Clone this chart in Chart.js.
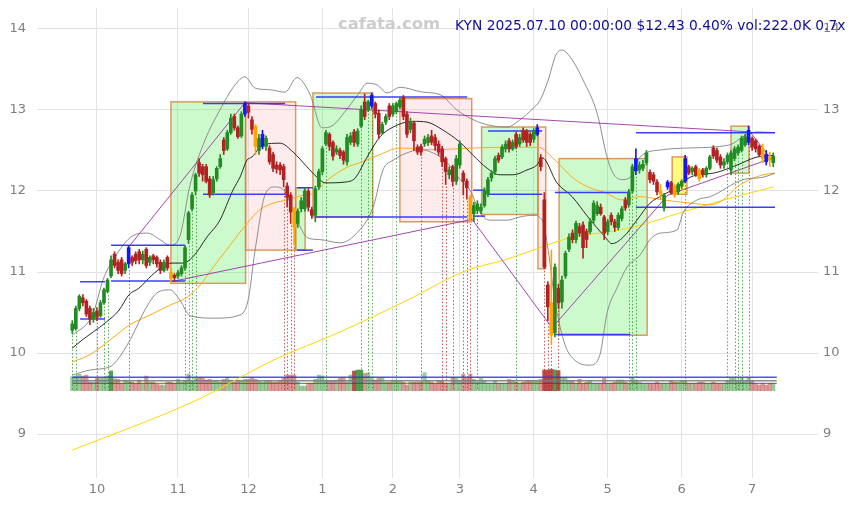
<!DOCTYPE html>
<html>
<head>
<meta charset="utf-8">
<title>KYN daily</title>
<script src="https://cdn.jsdelivr.net/npm/chart.js@4.4.1/dist/chart.umd.min.js"></script>
<style>
  html, body { margin: 0; padding: 0; background: #fff; }
  canvas { display: block; }
</style>
</head>
<body>
<canvas id="chart" width="854" height="505"></canvas>
<script>
// KYN daily candles, 2024-09-20 .. 2025-07-10 (x = trading-day index, 0 = 2024-09-20)
const monthIdx    = [7, 30, 50, 71, 91, 110, 131, 152, 173, 193];
const monthLabels = ['10', '11', '12', '1', '2', '3', '4', '5', '6', '7'];
const priceTicks  = [9, 10, 11, 12, 13, 14];

const opens = [
  10.28,10.30,10.55,10.68,10.64,10.55,10.42,10.52,10.46,10.62,
  10.76,10.95,11.22,11.12,11.15,11.02,11.10,11.18,11.22,11.25,
  11.15,11.28,11.12,11.20,11.18,11.12,11.02,11.18,11.00,10.96,
  10.95,10.98,11.05,11.40,11.78,12.00,12.35,12.30,12.30,12.15,
  11.98,12.15,12.30,12.63,12.52,12.72,12.92,12.78,12.68,12.95,
  13.05,12.88,12.80,12.50,12.55,12.55,12.53,12.45,12.32,12.32,
  12.30,12.06,11.95,11.78,11.60,11.78,11.78,12.00,11.77,11.70,
  12.05,12.24,12.58,12.70,12.60,12.48,12.50,12.48,12.36,12.60,
  12.73,12.58,12.80,13.10,13.00,13.05,13.08,12.96,12.72,12.85,
  13.05,12.95,12.98,13.04,13.16,12.95,12.76,12.84,12.54,12.55,
  12.58,12.60,12.68,12.66,12.58,12.52,12.40,12.20,12.30,12.12,
  12.32,12.22,12.12,11.92,11.72,11.76,11.76,11.82,11.96,12.16,
  12.24,12.44,12.42,12.52,12.62,12.52,12.70,12.58,12.75,12.74,
  12.70,12.64,12.70,12.41,11.89,10.84,10.62,10.25,10.80,10.63,
  10.95,11.28,11.48,11.40,11.56,11.58,11.50,11.50,11.64,11.72,
  11.80,11.68,11.50,11.70,11.62,11.55,11.66,11.89,11.83,12.00,
  12.25,12.26,12.28,12.35,12.23,12.20,12.11,12.00,11.79,12.05,
  12.10,12.06,11.99,12.06,12.12,12.30,12.24,12.30,12.26,12.26,
  12.20,12.28,12.53,12.50,12.42,12.32,12.36,12.26,12.40,12.47,
  12.50,12.57,12.60,12.65,12.62,12.55,12.52,12.45,12.42,12.35
];
const highs = [
  10.40,10.58,10.72,10.72,10.66,10.58,10.55,10.56,10.65,10.80,
  10.92,11.20,11.25,11.15,11.18,11.12,11.32,11.20,11.25,11.28,
  11.26,11.30,11.20,11.22,11.20,11.15,11.15,11.20,11.04,10.98,
  11.02,11.08,11.33,11.75,11.98,12.22,12.40,12.33,12.33,12.18,
  12.18,12.30,12.45,12.66,12.75,12.95,12.95,12.80,12.98,13.10,
  13.07,12.92,12.82,12.70,12.75,12.68,12.56,12.48,12.36,12.35,
  12.33,12.10,11.98,11.80,11.78,11.92,12.03,12.03,11.80,12.06,
  12.27,12.55,12.75,12.72,12.62,12.56,12.53,12.50,12.70,12.72,
  12.76,12.77,13.05,13.20,13.12,13.21,13.10,13.00,12.85,12.95,
  13.08,13.08,13.10,13.15,13.18,12.98,12.90,12.86,12.57,12.58,
  12.68,12.70,12.75,12.70,12.62,12.55,12.42,12.30,12.32,12.44,
  12.62,12.25,12.15,11.95,11.86,11.88,11.84,12.04,12.17,12.25,
  12.43,12.47,12.57,12.62,12.65,12.63,12.73,12.70,12.78,12.76,
  12.72,12.77,12.82,12.45,11.98,10.88,11.27,11.10,10.85,10.95,
  11.26,11.47,11.52,11.63,11.60,11.62,11.53,11.66,11.88,11.87,
  11.84,11.70,11.65,11.73,11.65,11.73,11.81,11.92,12.02,12.33,
  12.52,12.36,12.38,12.50,12.26,12.23,12.14,12.08,11.97,12.13,
  12.12,12.08,12.10,12.14,12.44,12.32,12.30,12.32,12.28,12.28,
  12.30,12.44,12.56,12.53,12.45,12.40,12.47,12.50,12.55,12.57,
  12.68,12.70,12.80,12.67,12.64,12.57,12.58,12.50,12.48,12.47
];
const lows = [
  10.24,10.28,10.52,10.58,10.45,10.35,10.38,10.40,10.44,10.60,
  10.74,10.93,11.05,10.98,10.95,10.98,11.05,11.08,11.10,11.10,
  11.10,11.05,11.08,11.10,11.06,10.98,11.00,11.02,10.86,10.88,
  10.92,10.95,11.02,11.35,11.75,11.95,12.18,12.12,12.10,11.92,
  11.95,12.12,12.28,12.45,12.50,12.70,12.75,12.65,12.66,12.92,
  12.90,12.70,12.45,12.45,12.52,12.50,12.33,12.24,12.22,12.20,
  12.05,11.80,11.60,11.33,11.55,11.74,11.75,11.75,11.66,11.62,
  12.02,12.20,12.56,12.50,12.38,12.45,12.40,12.33,12.32,12.57,
  12.55,12.55,12.78,12.88,12.98,13.02,12.90,12.65,12.70,12.82,
  12.88,12.92,12.95,13.02,12.88,12.66,12.72,12.50,12.45,12.44,
  12.55,12.56,12.57,12.50,12.44,12.30,12.08,12.15,12.06,12.08,
  12.28,11.95,11.90,11.62,11.62,11.72,11.72,11.80,11.93,12.12,
  12.20,12.35,12.40,12.48,12.48,12.50,12.52,12.55,12.60,12.55,
  12.56,12.60,12.68,12.25,11.04,10.40,10.10,10.20,10.55,10.55,
  10.92,11.25,11.36,11.36,11.44,11.17,11.30,11.47,11.60,11.70,
  11.70,11.40,11.46,11.58,11.50,11.52,11.63,11.76,11.80,11.97,
  12.20,12.22,12.25,12.32,12.10,12.08,11.95,11.90,11.75,12.02,
  11.96,11.92,11.96,12.03,12.10,12.20,12.20,12.18,12.12,12.17,
  12.17,12.26,12.40,12.35,12.28,12.28,12.33,12.20,12.37,12.44,
  12.48,12.55,12.57,12.50,12.48,12.42,12.35,12.32,12.30,12.30
];
const closes = [
  10.36,10.55,10.70,10.62,10.48,10.42,10.50,10.44,10.62,10.78,
  10.90,11.15,11.08,11.02,10.98,11.10,11.30,11.12,11.14,11.15,
  11.22,11.08,11.18,11.15,11.10,11.02,11.12,11.05,10.92,10.93,
  10.99,11.05,11.30,11.73,11.95,12.20,12.22,12.20,12.12,11.95,
  12.14,12.28,12.40,12.50,12.72,12.90,12.78,12.67,12.95,13.08,
  12.97,12.76,12.55,12.65,12.70,12.65,12.36,12.28,12.27,12.26,
  12.14,11.92,11.74,11.55,11.75,11.88,12.00,11.80,11.70,12.03,
  12.24,12.52,12.72,12.55,12.43,12.52,12.44,12.38,12.66,12.68,
  12.60,12.74,13.00,12.92,13.10,13.18,12.95,12.70,12.82,12.92,
  12.92,13.05,13.08,13.12,12.92,12.70,12.86,12.62,12.48,12.48,
  12.64,12.66,12.60,12.56,12.48,12.36,12.24,12.26,12.12,12.40,
  12.58,12.12,12.04,11.66,11.82,11.84,11.80,12.01,12.14,12.22,
  12.40,12.38,12.54,12.58,12.52,12.60,12.55,12.66,12.63,12.60,
  12.60,12.74,12.78,12.30,11.06,10.57,10.22,11.06,10.62,10.90,
  11.23,11.43,11.40,11.60,11.48,11.30,11.40,11.62,11.85,11.82,
  11.72,11.48,11.62,11.62,11.55,11.70,11.78,11.79,11.99,12.30,
  12.40,12.32,12.33,12.47,12.14,12.12,11.99,11.96,11.95,12.11,
  11.98,11.95,12.08,12.12,12.40,12.22,12.28,12.20,12.15,12.20,
  12.28,12.42,12.43,12.38,12.32,12.36,12.44,12.47,12.52,12.54,
  12.65,12.67,12.75,12.54,12.52,12.45,12.40,12.36,12.38,12.43
];
// daily volume, thousands of shares
const volumes = [
  420,440,500,440,470,260,260,370,370,370,
  440,590,360,340,220,320,290,260,220,320,
  220,440,260,260,200,170,170,260,260,220,
  340,260,300,500,300,370,400,400,320,340,
  300,300,260,340,400,300,260,300,300,340,
  340,400,340,300,260,300,300,260,260,300,
  370,470,470,470,260,140,140,220,220,340,
  470,440,300,300,300,320,370,400,260,470,
  590,620,620,520,540,370,320,370,400,260,
  260,320,300,300,260,170,260,260,260,260,
  540,300,260,220,300,300,220,220,400,370,
  300,500,370,500,340,260,370,300,220,220,
  300,220,220,220,340,300,260,220,260,300,
  300,300,300,340,620,620,640,620,600,400,
  400,300,300,220,340,220,260,300,220,220,
  220,370,220,220,260,320,320,260,220,370,
  320,260,220,220,220,220,260,220,220,220,
  300,260,260,300,300,220,220,220,260,260,
  220,220,260,220,220,220,300,370,370,300,
  370,300,370,300,220,170,220,170,220,222
];
const volumeLevels = [400, 300, 222];

// flagged sessions
const blueCandles   = [16, 49, 54, 85, 132, 160, 169, 174, 192, 197];
const orangeCandles = [28, 52, 63, 113, 136, 167, 171, 178, 196, 198];
const buySignals  = [0, 1, 7, 9, 10, 16, 32, 33, 34, 35, 72, 82, 84, 85, 92, 126, 158, 159, 160, 174, 186, 188, 189, 190, 192];
const sellSignals = [60, 61, 62, 63, 99, 105, 106, 108, 111, 112, 113, 115, 134, 135, 136, 138];

// moving averages and bands: [day index, price]
const ma20 = [
  [0,10.06],[2.8,10.16],[9.3,10.37],[13.3,10.53],[16.1,10.72],[18.9,10.80],[22.6,10.96],[25.5,11.06],
  [28.3,11.11],[31.4,11.11],[34.3,11.19],[38.2,11.43],[41.9,11.64],[45.6,12.01],[47.6,12.17],[49.6,12.38],
  [51,12.42],[54.2,12.57],[59,12.59],[62.7,12.48],[66.6,12.30],[69.5,12.17],[71.8,12.10],[77.4,12.11],
  [80.3,12.16],[83.7,12.42],[87.4,12.67],[91.1,12.79],[96.7,12.86],[100.7,12.85],[105.3,12.75],[110.1,12.60],
  [113.8,12.44],[117.8,12.28],[121.4,12.20],[125.1,12.20],[129.1,12.26],[131.9,12.32],[133.4,12.41],[137.6,12.10],
  [141.9,11.93],[146.4,11.68],[151.3,11.43],[153.2,11.35],[156.4,11.43],[160.3,11.64],[164,11.85],[167.7,11.95],
  [171.7,12.05],[175.4,12.17],[183,12.23],[188.7,12.32],[194.4,12.42],[199,12.44]
];
const ma50 = [
  [0,9.89],[5,9.98],[10.7,10.16],[16.4,10.35],[22.1,10.47],[27.7,10.59],[32.6,10.69],[36.3,10.84],
  [40,11.06],[44.8,11.33],[49.6,11.60],[53.3,11.77],[57,11.85],[61,11.89],[64.7,11.94],[68.9,11.98],
  [71.8,12.11],[77.4,12.28],[82.3,12.36],[86.8,12.44],[93,12.53],[102.4,12.51],[113.8,12.53],[121.4,12.54],
  [132.2,12.54],[137.1,12.38],[141.9,12.17],[146.4,12.05],[151.3,11.98],[156,11.89],[161.2,11.93],[167.7,11.89],
  [175.4,11.85],[181.1,11.83],[184.8,11.89],[188.7,12.05],[192.4,12.14],[196.1,12.20],[199.5,12.22]
];
const ma200 = [
  [0,8.80],[35.4,9.42],[57,9.91],[76,10.26],[95,10.65],[112,11.02],[122.8,11.15],[130.8,11.27],
  [141.9,11.43],[151.3,11.49],[159.8,11.56],[172.5,11.73],[186.7,11.91],[199,12.05]
];
const bandUpper = [
  [0,10.22],[5,10.41],[6.4,10.55],[8.7,10.90],[11.6,11.15],[17.3,11.45],[21.3,11.48],[24.9,11.40],
  [27.7,11.33],[30.6,11.45],[33.4,12.07],[37.7,12.63],[41.9,13.0],[46.2,13.31],[49,13.41],[51.9,13.27],
  [56.1,13.25],[60.4,13.22],[63.8,13.40],[67.5,13.19],[70.9,12.78],[74,12.81],[77.4,12.98],[81.1,13.19],
  [83.7,13.33],[86.5,13.31],[89.4,13.21],[93,13.28],[99.6,13.22],[104.4,13.19],[109.2,13.0],[113.8,12.88],
  [118.6,12.81],[123.4,12.79],[127.1,12.88],[130.8,13.02],[132.8,13.12],[135.1,13.37],[137.3,13.68],[139,13.74],
  [141.9,13.62],[145,13.37],[149,12.96],[151.8,12.42],[153.5,12.22],[156,12.14],[158.4,12.17],[161.2,12.42],
  [167.7,12.51],[174.5,12.53],[186.7,12.57],[190.4,12.67],[194.4,12.73],[199.5,12.72]
];
const bandLower = [
  [0.2,9.73],[5,9.79],[10.7,9.83],[12.7,9.91],[16.4,10.16],[20.6,10.53],[24,10.74],[27.7,10.78],
  [30.6,10.65],[33.4,10.46],[40.5,10.43],[47.6,10.47],[49.9,10.65],[51.9,11.27],[54.7,11.95],[57.5,12.05],
  [60.4,11.99],[63.2,11.70],[66.9,11.42],[70.3,11.40],[76,11.36],[80.3,11.46],[85.4,11.80],[88.2,12.26],
  [91.1,12.38],[95,12.47],[98.7,12.51],[102.4,12.47],[106.4,12.35],[110.1,12.14],[112.9,12.01],[115.8,11.73],
  [118.6,11.64],[123.4,11.64],[127.1,11.68],[130.8,11.70],[133.4,11.64],[135.1,11.27],[137,10.65],[139.9,10.10],
  [142.7,9.91],[147,9.85],[149.8,9.98],[151.8,10.49],[154.7,10.81],[157.5,11.06],[161.2,11.21],[164,11.40],
  [166.9,11.48],[171.7,11.52],[173.4,11.73],[177.4,11.89],[181.1,11.93],[190.4,12.14],[196.1,12.17],[199.5,12.22]
];

// trend zones: [from day, to day, top, bottom, kind]
const zones = [
  [28.0, 49.2, 13.10, 10.86, 'up'],
  [49.2, 63.4, 13.10, 11.27, 'down'],
  [63.4, 66.1, 12.04, 11.27, 'up'],
  [68.3, 85.3, 13.21, 11.68, 'up'],
  [93.0, 113.4, 13.14, 11.62, 'down'],
  [116.2, 132.2, 12.79, 11.71, 'up'],
  [132.2, 134.4, 12.79, 11.04, 'down'],
  [138.2, 163.2, 12.40, 10.22, 'up'],
  [170.3, 174.5, 12.42, 11.96, 'flat'],
  [187.0, 192.1, 12.80, 12.22, 'up']
];
// range levels: [from day, to day, price]
const levels = [
  [2.2, 9.3, 10.88], [2.2, 9.3, 10.42],
  [11, 32, 11.33], [11, 32, 10.89],
  [37.1, 60.4, 13.08], [37.1, 60.4, 11.96],
  [63.8, 68.3, 12.04], [63.8, 68.3, 11.27],
  [69.2, 112.1, 13.16], [69.2, 112.1, 11.68],
  [113.8, 117.2, 12.01], [113.8, 117.2, 11.69],
  [118, 133.4, 12.74], [118, 133.4, 11.96],
  [137, 158.4, 11.98], [137, 158.4, 10.23],
  [160, 199.5, 12.72], [160, 199.5, 11.80]
];
// trendlines: [day a, price a, day b, price b]
const trendlines = [
  [16.4, 11.33, 49, 13.09],
  [49, 13.09, 192.4, 12.73],
  [28, 10.88, 113.5, 11.65],
  [113.5, 11.65, 136.2, 10.31],
  [136.2, 10.31, 169.1, 11.95],
  [169.1, 11.95, 199, 12.41],
  [192.4, 12.73, 198, 12.42]
];

const headline = 'KYN 2025.07.10 00:00:00 $12.43 0.40% vol:222.0K 0.7x';
const brand = 'cafata.com';

// ---------- styling ----------
const UP = 'rgb(34,139,34)', DOWN = 'rgb(178,34,34)';
const FONT = "'DejaVu Sans', sans-serif";
const zoneFill = {
  up: 'rgba(60,235,60,0.26)',
  down: 'rgba(250,170,170,0.22)',
  flat: 'rgba(255,250,40,0.6)'
};

const days = closes.map((_, i) => i);
function candleColor(i) {
  if (blueCandles.includes(i)) return 'rgb(20,20,255)';
  if (orangeCandles.includes(i)) return 'rgb(255,165,0)';
  return closes[i] >= opens[i] ? UP : DOWN;
}
const candleColors = days.map(candleColor);
const volColors = days.map(i => {
  const up = closes[i] >= opens[i];
  const a = volumes[i] >= 550 ? 0.8 : 0.45;
  return up ? `rgba(34,139,34,${a})` : `rgba(178,34,34,${a})`;
});

function curve(points, color, width, order) {
  return {
    type: 'line', yAxisID: 'y',
    data: points.map(([x, y]) => ({ x, y })),
    borderColor: color, borderWidth: width, pointRadius: 0,
    cubicInterpolationMode: 'monotone', fill: false, order
  };
}
function straight(points, color, width, order, axis) {
  return {
    type: 'line', yAxisID: axis || 'y',
    data: points.map(([x, y]) => ({ x, y })),
    borderColor: color, borderWidth: width, pointRadius: 0,
    tension: 0, fill: false, order
  };
}

const datasets = [
  {
    type: 'bar', yAxisID: 'yv', order: 100, grouped: false,
    data: volumes.map((v, i) => ({ x: i, y: v })),
    backgroundColor: volColors, barThickness: 3.4, borderWidth: 0
  },
  straight([[0, volumeLevels[0]], [200, volumeLevels[0]]], 'rgba(50,50,240,0.85)', 1.5, 95, 'yv'),
  straight([[0, volumeLevels[1]], [200, volumeLevels[1]]], 'rgba(120,120,120,0.85)', 1.5, 95, 'yv'),
  straight([[0, volumeLevels[2]], [200, volumeLevels[2]]], 'rgba(60,60,60,0.8)', 1, 95, 'yv'),
  curve(ma200, 'rgb(255,215,0)', 1, 90),
  curve(ma50, 'rgb(255,170,20)', 1, 89),
  curve(bandUpper, 'rgba(130,130,130,0.9)', 1, 88),
  curve(bandLower, 'rgba(130,130,130,0.9)', 1, 88),
  curve(ma20, 'rgba(20,20,20,0.9)', 1, 87),
  ...trendlines.map(([a, pa, b, pb]) => straight([[a, pa], [b, pb]], 'rgba(150,40,160,0.85)', 1, 80)),
  ...levels.map(([a, b, p]) => straight([[a, p], [b, p]], 'rgba(40,40,255,0.9)', 1.5, 70)),
  {
    type: 'bar', yAxisID: 'y', order: 20, grouped: false,
    data: days.map(i => ({ x: i, y: [lows[i], highs[i]] })),
    backgroundColor: candleColors, barThickness: 1, borderWidth: 0
  },
  {
    type: 'bar', yAxisID: 'y', order: 10, grouped: false,
    data: days.map(i => ({ x: i, y: [Math.min(opens[i], closes[i]), Math.max(opens[i], closes[i])] })),
    backgroundColor: candleColors, barThickness: 3, minBarLength: 1, borderWidth: 0
  }
];

// zones and signal markers under the series; headline on top
const overlay = {
  id: 'overlay',
  beforeDatasetsDraw(chart) {
    const { ctx, chartArea: ca, scales } = chart;
    const x = scales.x, y = scales.y, yv = scales.yv;
    ctx.save();
    ctx.beginPath();
    ctx.rect(ca.left, ca.top, ca.right - ca.left, ca.bottom - ca.top);
    ctx.clip();
    for (const [a, b, top, bot, kind] of zones) {
      const x0 = x.getPixelForValue(a), x1 = x.getPixelForValue(b);
      const y0 = y.getPixelForValue(top), y1 = y.getPixelForValue(bot);
      ctx.fillStyle = zoneFill[kind];
      ctx.fillRect(x0, y0, x1 - x0, y1 - y0);
      ctx.strokeStyle = 'rgba(215,130,60,0.8)';
      ctx.lineWidth = 1.5;
      ctx.strokeRect(x0, y0, x1 - x0, y1 - y0);
    }
    const base = yv.getPixelForValue(0);
    ctx.lineWidth = 1;
    ctx.setLineDash([1.5, 2]);
    const mark = (list, color) => {
      ctx.strokeStyle = color;
      for (const i of list) {
        const px = Math.round(x.getPixelForValue(i)) + 0.5;
        ctx.beginPath();
        ctx.moveTo(px, y.getPixelForValue(lows[i]) + 2);
        ctx.lineTo(px, base);
        ctx.stroke();
      }
    };
    mark(buySignals, 'rgba(34,139,34,0.75)');
    mark(sellSignals, 'rgba(178,34,34,0.75)');
    ctx.restore();
  },
  afterDraw(chart) {
    const { ctx } = chart;
    ctx.save();
    ctx.textBaseline = 'middle';
    ctx.textAlign = 'left';
    // brand mark
    ctx.font = `bold 100px ${FONT}`;
    let s = 100 * 102 / ctx.measureText(brand).width;
    ctx.font = `bold ${s.toFixed(1)}px ${FONT}`;
    ctx.fillStyle = 'rgba(200,200,200,0.9)';
    ctx.fillText(brand, 338, 25);
    // headline
    ctx.font = `100px ${FONT}`;
    s = 100 * 390 / ctx.measureText(headline).width;
    ctx.font = `${s.toFixed(1)}px ${FONT}`;
    ctx.fillStyle = 'rgb(16,16,150)';
    ctx.fillText(headline, 455, 26);
    ctx.restore();
  }
};

const tickFont = { family: FONT, size: 13 };
const tickColor = '#7f7f7f';
const gridColor = '#e3e3e3';
// fixed plot frame: no automatic label padding
const fitY = w => s => { s.width = w; s.paddingTop = 0; s.paddingBottom = 0; };

new Chart(document.getElementById('chart'), {
  type: 'bar',
  data: { datasets },
  options: {
    responsive: false,
    animation: false,
    devicePixelRatio: 1,
    layout: { padding: { top: 8, left: 0, right: 0, bottom: 0 }, autoPadding: false },
    plugins: { legend: { display: false }, tooltip: { enabled: false } },
    scales: {
      x: {
        type: 'linear', min: -10.02, max: 211.7, offset: false,
        grid: { color: gridColor, drawTicks: false, offset: false },
        border: { display: false },
        afterBuildTicks: s => { s.ticks = monthIdx.map(v => ({ value: v })); },
        afterFit: s => { s.height = 27; s.paddingLeft = 0; s.paddingRight = 0; },
        ticks: {
          color: tickColor, font: tickFont, padding: 4, maxRotation: 0, autoSkip: false,
          callback: v => { const k = monthIdx.indexOf(v); return k >= 0 ? monthLabels[k] : ''; }
        }
      },
      y: {
        type: 'linear', position: 'left', min: 8.457, max: 14.259,
        grid: { color: gridColor, drawTicks: false },
        border: { display: false },
        afterBuildTicks: s => { s.ticks = priceTicks.map(v => ({ value: v })); },
        afterFit: fitY(37),
        ticks: { color: tickColor, font: tickFont, padding: 11 }
      },
      y2: {
        type: 'linear', position: 'right', min: 8.457, max: 14.259,
        grid: { display: false, drawTicks: false },
        border: { display: false },
        afterBuildTicks: s => { s.ticks = priceTicks.map(v => ({ value: v })); },
        afterFit: fitY(36),
        ticks: { color: tickColor, font: tickFont, padding: 5 }
      },
      yv: { type: 'linear', display: false, min: -2619, max: 11481 }
    }
  },
  plugins: [overlay]
});
</script>
</body>
</html>
